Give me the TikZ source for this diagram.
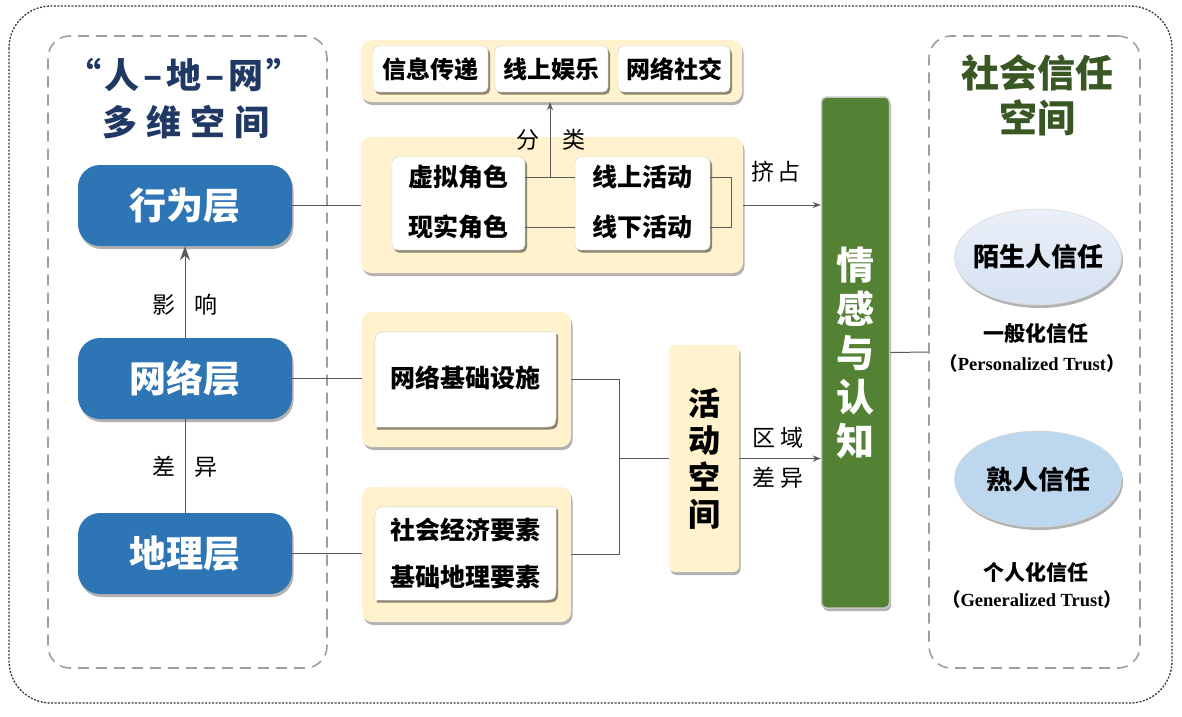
\documentclass[tikz,border=0pt]{standalone}
\usepackage{fontspec}
\setmainfont{Liberation Serif}
\newfontfamily\cjk{Noto Sans CJK SC}
\usetikzlibrary{shadows,shapes.geometric,arrows.meta,calc}
\definecolor{beige}{HTML}{FFF2CC}
\definecolor{layerblue}{HTML}{2E75B6}
\definecolor{emogreen}{HTML}{548235}
\definecolor{titlegreen}{HTML}{385723}
\definecolor{navy}{HTML}{203864}
\definecolor{linegray}{HTML}{595959}
\definecolor{ellA}{HTML}{DAE3F3}
\definecolor{ellB}{HTML}{BDD7EE}
\tikzset{
  softshadow/.style={drop shadow={shadow xshift=1.5pt,shadow yshift=-3pt,opacity=.3,fill=black}},
  panel/.style={fill=beige,rounded corners=10pt,inner sep=0pt,softshadow},
  wbox/.style={fill=white,draw=black!20,line width=.4pt,rounded corners=5pt,inner sep=0pt,
    drop shadow={shadow xshift=2pt,shadow yshift=-2.5pt,opacity=.45,fill=black}},
  layer/.style={fill=layerblue,rounded corners=22pt,minimum width=214pt,minimum height=81pt,inner sep=0pt,
    text=white,font={\cjk\bfseries\fontsize{37}{40}\selectfont},softshadow},
  btxt/.style={font={\cjk\bfseries\fontsize{25}{30}\selectfont},inner sep=0pt},
  lab/.style={font={\cjk\fontsize{23}{28}\selectfont},inner sep=0pt},
  ln/.style={draw=linegray,line width=1pt},
  arrbig/.style={ln,-{Stealth[length=14pt,width=10pt]}},
  arrsmall/.style={ln,-{Stealth[length=8pt,width=6pt]}},
  dashbox/.style={draw=black!38,line width=1.6pt,dash pattern=on 11pt off 7pt,rounded corners=22pt,inner sep=0pt},
  trustell/.style={ellipse,draw=black!15,line width=.6pt,minimum width=167pt,minimum height=96pt,inner sep=0pt,
    font={\cjk\bfseries\fontsize{26}{30}\selectfont},softshadow},
  subtxt/.style={font={\cjk\bfseries\fontsize{21}{25}\selectfont},inner sep=0pt},
  engtxt/.style={font={\bfseries\fontsize{18.5}{21}\selectfont},inner sep=0pt},
  roundbox/.style={fill=white,draw=black!20,line width=.4pt,
    drop shadow={shadow xshift=2pt,shadow yshift=-2.5pt,opacity=.45,fill=black}},
}
\begin{document}
\begin{tikzpicture}[x=1pt,y=-1pt]
\useasboundingbox (0,0) rectangle (1182,716);
\fill[white] (0,0) rectangle (1182,716);
\draw[black!78,line width=1.3pt,dash pattern=on 2pt off 1.5pt,rounded corners=42pt] (9,6) rectangle (1172,703);

% ---------- left column ----------
\node[dashbox,minimum width=279pt,minimum height=632pt] (lbox) at (187.5,352) {};
\node[font={\cjk\bfseries\fontsize{35}{40}\selectfont},text=navy,inner sep=0pt] (ltitleA) at (184,75)
  {“\hspace{3pt}人\hspace{4pt}–\hspace{4pt}地\hspace{4pt}–\hspace{4pt}网\hspace{3pt}”};
\node[font={\cjk\bfseries\fontsize{35}{40}\selectfont},text=navy,inner sep=0pt] (ltitleB) at (186,122)
  {多\hspace{9pt}维\hspace{9pt}空\hspace{9pt}间};

\node[layer] (beh) at (185,205.5) {行为层};
\node[layer] (net) at (185,378.5) {网络层};
\node[layer] (geo) at (185,553.5) {地理层};
\draw[arrbig] (net.north) -- (beh.south);
\draw[ln] (geo.north) -- (net.south);
\node[lab] (labA) at (185,305) {影\hspace{20pt}响};
\node[lab] (labB) at (185,467) {差\hspace{20pt}异};

% ---------- top classification panel ----------
\node[panel,minimum width=381pt,minimum height=62pt] (clsPanel) at (551.5,71) {};
\node[wbox,btxt,font={\cjk\bfseries\fontsize{24}{28}\selectfont},minimum width=115pt,minimum height=46pt] (cA) at (430.5,69) {信息传递};
\node[wbox,btxt,font={\cjk\bfseries\fontsize{24}{28}\selectfont},minimum width=113pt,minimum height=46pt] (cB) at (551.5,69) {线上娱乐};
\node[wbox,btxt,font={\cjk\bfseries\fontsize{24}{28}\selectfont},minimum width=112pt,minimum height=46pt] (cC) at (674,69) {网络社交};

% ---------- behaviour panel ----------
\node[panel,minimum width=382pt,minimum height=136pt] (actPanel) at (552,205) {};
\node[wbox,minimum width=133pt,minimum height=93pt] (roleBox) at (458.5,203.5) {};
\node[wbox,minimum width=135pt,minimum height=93pt] (actBox) at (642.5,203.5) {};
\node[btxt] (vA) at (458.5,177) {虚拟角色};
\node[btxt] (vB) at (458.5,227) {现实角色};
\node[btxt] (aA) at (642.5,177) {线上活动};
\node[btxt] (aB) at (642.5,227) {线下活动};
\draw[ln] (roleBox.east |- vA) -- (actBox.west |- aA);
\draw[ln] (roleBox.east |- vB) -- (actBox.west |- aB);
\coordinate (split) at ($(roleBox.east |- vA)!.5!(actBox.west |- aA)$);
\draw[arrsmall] (split) -- (split |- clsPanel.south);
\node[lab] (labC) at (551,140) {分\hspace{24pt}类};
\draw[ln] (actBox.east |- aA) -- ++(21,0) |- (actBox.east |- aB);
\draw[ln] (beh.east) -- (actPanel.west |- beh.east);

% ---------- emotion & cognition ----------
\node[fill=emogreen,draw=black!22,line width=1.5pt,rounded corners=5pt,minimum width=68pt,minimum height=511pt,
  inner sep=0pt,text=white,align=center,font={\cjk\bfseries\fontsize{38}{44}\selectfont},softshadow] (emo) at (855.5,352.5)
  {情\\感\\与\\认\\知};
\draw[arrsmall] (actPanel.east) -- (emo.west |- actPanel.east);
\node[lab] (labD) at (776,172) {挤\hspace{4pt}占};

% ---------- network / geo panels ----------
\node[panel,minimum width=209pt,minimum height=135pt] (netPanel) at (466.5,379.5) {};
\node[minimum width=181pt,minimum height=95pt,inner sep=0pt] (netBox) at (465.5,379.5) {};
\path[roundbox] (netBox.south west) -- ([yshift=-18pt]netBox.north west)
  .. controls (netBox.north west) .. ([xshift=18pt]netBox.north west) -- (netBox.north east)
  -- ([yshift=18pt]netBox.south east) .. controls (netBox.south east) .. ([xshift=-18pt]netBox.south east) -- cycle;
\node[btxt] (netTxt) at (465.5,378) {网络基础设施};

\node[panel,minimum width=209pt,minimum height=135pt] (geoPanel) at (466.5,554.5) {};
\node[minimum width=181pt,minimum height=93pt,inner sep=0pt] (geoBox) at (465.5,553.5) {};
\path[roundbox] (geoBox.south west) -- ([yshift=-18pt]geoBox.north west)
  .. controls (geoBox.north west) .. ([xshift=18pt]geoBox.north west) -- (geoBox.north east)
  -- ([yshift=18pt]geoBox.south east) .. controls (geoBox.south east) .. ([xshift=-18pt]geoBox.south east) -- cycle;
\node[btxt] (geoTxtA) at (465.5,530) {社会经济要素};
\node[btxt] (geoTxtB) at (465.5,577) {基础地理要素};

\draw[ln] (net.east) -- (netPanel.west |- net.east);
\draw[ln] (geo.east) -- (geoPanel.west |- geo.east);

\node[fill=beige,rounded corners=6pt,minimum width=70pt,minimum height=227pt,inner sep=0pt,align=center,
  font={\cjk\bfseries\fontsize{32}{37}\selectfont},softshadow] (hd) at (704,458.5) {活\\动\\空\\间};
\coordinate (jn) at (619,458.5);
\draw[ln] (netPanel.east) -| (jn) |- (geoPanel.east);
\draw[ln] (jn) -- (hd.west);
\draw[arrsmall] (hd.east) -- (emo.west |- hd.east);
\node[lab] (labE) at (778,438) {区\hspace{5pt}域};
\node[lab] (labF) at (778,478) {差\hspace{5pt}异};

% ---------- right column ----------
\node[dashbox,minimum width=211pt,minimum height=632pt] (rbox) at (1034.5,352) {};
\draw[ln] (emo.east) -- (rbox.west);
\node[font={\cjk\bfseries\fontsize{38}{44}\selectfont},text=titlegreen,inner sep=0pt] (rtitleA) at (1037.5,73) {社会信任};
\node[font={\cjk\bfseries\fontsize{38}{44}\selectfont},text=titlegreen,inner sep=0pt] (rtitleB) at (1037.5,118) {空间};

\node[trustell,top color=ellA!55!white,bottom color=ellA!85!ellB] (eA) at (1038,257) {\makebox[0pt]{陌生人信任}};
\node[subtxt] (sA) at (1036,333) {一般化信任};
\node[engtxt] (gA) at (1032,363) {{\cjk （}Personalized Trust{\cjk ）}};

\node[trustell,fill=ellB] (eB) at (1038,479) {\makebox[0pt]{熟人信任}};
\node[subtxt] (sB) at (1036,572) {个人化信任};
\node[engtxt] (gB) at (1032,599) {{\cjk （}Generalized Trust{\cjk ）}};
\end{tikzpicture}
\end{document}
